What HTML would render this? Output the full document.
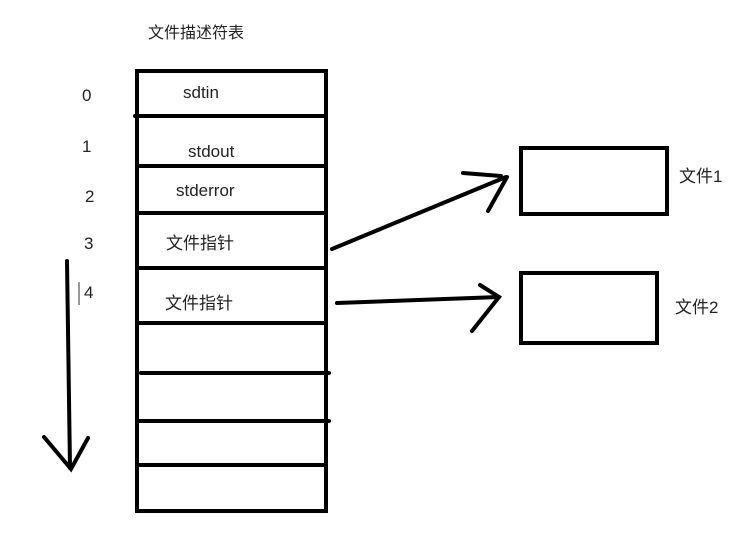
<!DOCTYPE html>
<html><head><meta charset="utf-8"><style>
body{margin:0;background:#fff;width:747px;height:535px;overflow:hidden}
svg text{font-family:"Liberation Sans","Noto Sans CJK SC",sans-serif;fill:#222}
</style></head><body>
<svg width="747" height="535" viewBox="0 0 747 535">
<g stroke="#000" stroke-width="4" fill="none" stroke-linecap="round">
<rect x="137" y="71" width="189" height="440" stroke-linecap="butt"/>
<line x1="135" y1="116" x2="326" y2="116"/>
<line x1="137" y1="166" x2="326" y2="166"/>
<line x1="137" y1="213" x2="326" y2="213"/>
<line x1="137" y1="268" x2="326" y2="268"/>
<line x1="137" y1="323" x2="326" y2="323"/>
<line x1="141" y1="373" x2="329" y2="373"/>
<line x1="137" y1="421" x2="329" y2="421"/>
<line x1="137" y1="465" x2="326" y2="465"/>
<line x1="67" y1="261" x2="70" y2="468"/>
<polyline points="44,437 71,469 88,438"/>
<rect x="521" y="148" width="146" height="66" stroke-linecap="butt"/>
<rect x="521" y="273" width="136" height="70" stroke-linecap="butt"/>
<line x1="332" y1="249" x2="506" y2="177"/>
<line x1="463" y1="173" x2="501" y2="176"/>
<line x1="488" y1="211" x2="507" y2="177"/>
<line x1="337" y1="303" x2="499" y2="297"/>
<polyline points="480,285 499,297 472,331"/>
</g>
<line x1="79" y1="282" x2="79" y2="305" stroke="#333" stroke-width="1"/>
<g font-size="17">
<text x="148" y="38" font-size="16">文件描述符表</text>
<text x="82" y="101">0</text>
<text x="82" y="152">1</text>
<text x="85" y="202">2</text>
<text x="84" y="249">3</text>
<text x="84" y="298">4</text>
<text x="183" y="98">sdtin</text>
<text x="188" y="157">stdout</text>
<text x="176" y="196">stderror</text>
<text x="166" y="249">文件指针</text>
<text x="165" y="309">文件指针</text>
<text x="679" y="182">文件1</text>
<text x="675" y="313">文件2</text>
</g>
</svg>
</body></html>
